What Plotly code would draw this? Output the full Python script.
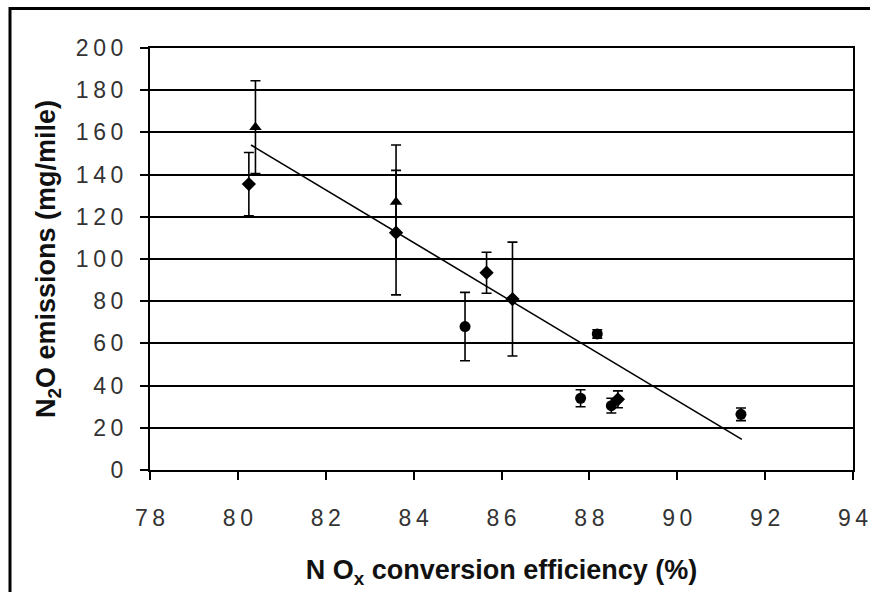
import plotly.graph_objects as go

# ---- data ----
nox_eff = [80.25, 80.4, 83.6, 83.6, 85.17, 85.66, 86.25, 87.8, 88.18, 88.5, 88.65, 91.45]
n2o_mg = [135.5, 162.5, 127.0, 112.5, 68.0, 93.5, 81.0, 34.0, 64.5, 30.5, 33.5, 26.4]
n2o_err = [15.0, 22.0, 27.0, 29.5, 16.2, 9.7, 27.0, 4.0, 2.0, 3.5, 4.0, 3.0]
point_symbols = ["diamond", "triangle-up", "triangle-up", "diamond", "circle", "diamond",
                 "diamond", "circle", "circle", "circle", "diamond", "circle"]

trend_x = [80.3, 91.47]
trend_y = [154.0, 14.5]

x_ticks = [78, 80, 82, 84, 86, 88, 90, 92, 94]
y_ticks = [0, 20, 40, 60, 80, 100, 120, 140, 160, 180, 200]

THIN = "\u2009"


def spaced(v):
    return THIN.join(str(v))


fig = go.Figure()

fig.add_trace(go.Scatter(
    x=trend_x, y=trend_y, mode="lines",
    line=dict(color="black", width=1.6),
    showlegend=False, hoverinfo="skip",
))

fig.add_trace(go.Scatter(
    x=nox_eff, y=n2o_mg, mode="markers",
    marker=dict(color="black", size=11, symbol=point_symbols),
    error_y=dict(type="data", array=n2o_err, visible=True,
                 color="black", thickness=1.6, width=5),
    showlegend=False,
))

tick_font = dict(family="Liberation Sans, Arial, sans-serif", size=23, color="#333333")
title_font = dict(family="Liberation Sans, Arial, sans-serif", size=27, color="#111111")

fig.update_layout(
    width=870, height=592,
    margin=dict(l=150, r=17, t=48, b=122),
    paper_bgcolor="white", plot_bgcolor="white",
    xaxis=dict(
        range=[78, 94], tickvals=x_ticks, ticktext=[spaced(v) for v in x_ticks],
        showgrid=False, zeroline=False,
        showline=True, mirror=True, linecolor="black", linewidth=2,
        ticks="outside", ticklen=8, tickwidth=2, tickcolor="black",
        tickfont=tick_font, ticklabelstandoff=18,
        title=dict(text="<b>N O<sub>x</sub> conversion efficiency (%)</b>",
                   font=title_font, standoff=31),
        automargin=False,
    ),
    yaxis=dict(
        range=[0, 200], tickvals=y_ticks, ticktext=[spaced(v) for v in y_ticks],
        showgrid=True, gridcolor="black", gridwidth=1.6,
        zeroline=False,
        showline=True, mirror=True, linecolor="black", linewidth=2,
        ticks="outside", ticklen=8, tickwidth=2, tickcolor="black",
        tickfont=tick_font, ticklabelstandoff=12,
        title=dict(text="<b>N<sub>2</sub>O emissions (mg/mile)</b>",
                   font=title_font, standoff=12),
        automargin=False,
    ),
    shapes=[dict(
        type="rect", xref="paper", yref="paper",
        x0=(10 - 150) / 703, x1=(880 - 150) / 703,
        y0=(470 - 610) / 422, y1=(470 - 8.5) / 422,
        line=dict(color="black", width=3), fillcolor="rgba(0,0,0,0)",
        layer="above",
    )],
)

fig.write_html("out.html")
